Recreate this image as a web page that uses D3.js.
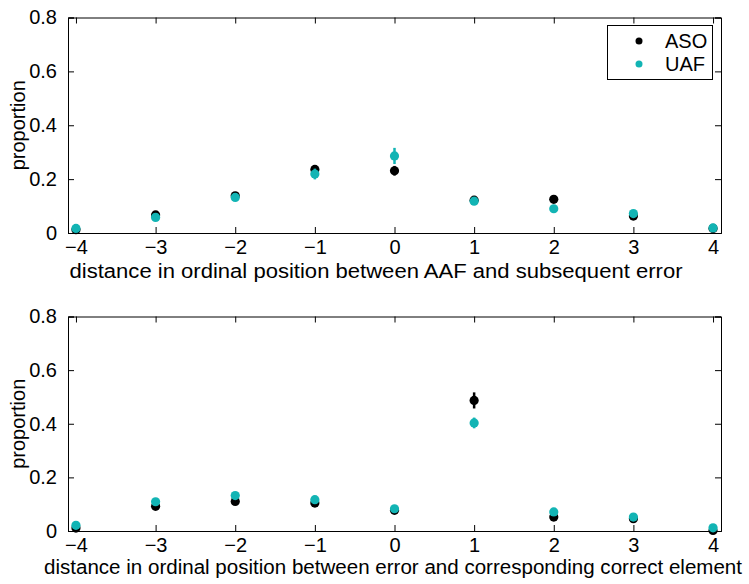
<!DOCTYPE html>
<html><head><meta charset="utf-8">
<script src="https://cdn.jsdelivr.net/npm/d3@7/dist/d3.min.js"></script>
<style>body{margin:0;background:#fff}svg{display:block}text{font-family:"Liberation Sans",Arial,Helvetica,sans-serif;fill:#000}</style>
</head><body><svg id="c" width="749" height="584"></svg>
<script>
const distances = [-4,-3,-2,-1,0,1,2,3,4];
const yTicks = [0,0.2,0.4,0.6,0.8];
const seriesNames = ["ASO","UAF"];
const seriesColors = ["#000000","#12b4b4"];
// top panel: AAF -> subsequent error
const topASO = [0.012,0.067,0.138,0.236,0.231,0.122,0.125,0.063,0.017];
const topUAF = [0.017,0.058,0.132,0.219,0.286,0.118,0.090,0.072,0.019];
const topASOerr = [0.004,0.006,0.007,0.015,0.018,0.007,0.009,0.007,0.004];
const topUAFerr = [0.005,0.006,0.008,0.020,0.030,0.008,0.012,0.008,0.005];
// bottom panel: error -> corresponding correct element
const botASO = [0.011,0.092,0.110,0.104,0.077,0.487,0.052,0.046,0.002];
const botUAF = [0.021,0.109,0.132,0.117,0.083,0.403,0.071,0.052,0.012];
const botASOerr = [0.004,0.009,0.010,0.009,0.007,0.030,0.007,0.006,0.003];
const botUAFerr = [0.005,0.009,0.013,0.009,0.007,0.020,0.008,0.007,0.005];
const topXLabel = "distance in ordinal position between AAF and subsequent error";
const botXLabel = "distance in ordinal position between error and corresponding correct element";
const yLabel = "proportion";

const svg = d3.select("#c");
const left = 68, right = 721;

function panel(top, bottom, aso, uaf, asoErr, uafErr, xlabel, labelCx, labelW, labelDy, legend) {
  const x = d3.scaleLinear().domain([-4.1,4.1]).range([left,right]);
  const y = d3.scaleLinear().domain([0,0.8]).range([bottom,top]);
  const g = svg.append("g");
  const tl = 6;
  const xb = g.append("g").attr("transform",`translate(0,${bottom})`)
    .call(d3.axisBottom(x).tickValues(distances).tickSize(-tl).tickPadding(9).tickFormat(d=>d<0?"\u2212"+(-d):d));
  const xt = g.append("g").attr("transform",`translate(0,${top})`)
    .call(d3.axisTop(x).tickValues(distances).tickSize(-tl).tickFormat(""));
  const yl = g.append("g").attr("transform",`translate(${left},0)`)
    .call(d3.axisLeft(y).tickValues(yTicks).tickSize(-tl).tickPadding(11).tickFormat(d=>d===0?"0":d3.format(".1f")(d)));
  const yr = g.append("g").attr("transform",`translate(${right},0)`)
    .call(d3.axisRight(y).tickValues(yTicks).tickSize(-tl).tickFormat(""));
  [xb,xt,yl,yr].forEach(a=>{
    a.select(".domain").attr("stroke","#000").attr("stroke-width",1);
    a.selectAll(".tick line").attr("stroke","#000");
    a.selectAll("text").attr("font-size",20).attr("font-family","Liberation Sans, Arial, sans-serif");
  });
  xb.selectAll("text").attr("dy","0.62em");
  g.append("text").attr("x",labelCx).attr("y",bottom+labelDy)
    .attr("text-anchor","middle").attr("font-size",20)
    .attr("textLength",labelW).attr("lengthAdjust","spacingAndGlyphs").text(xlabel);
  g.append("text").attr("transform",`translate(25,${(top+bottom)/2}) rotate(-90)`)
    .attr("text-anchor","middle").attr("font-size",20).text(yLabel);
  const sets = [[aso,asoErr],[uaf,uafErr]];
  sets.forEach(([vals,errs],si)=>{
    const s = g.append("g").attr("fill",seriesColors[si]).attr("stroke",seriesColors[si]);
    s.selectAll("line").data(distances).join("line")
      .attr("x1",d=>x(d)).attr("x2",d=>x(d))
      .attr("y1",(d,i)=>y(vals[i]-errs[i])).attr("y2",(d,i)=>y(vals[i]+errs[i]))
      .attr("stroke-width",2.5);
    s.selectAll("circle").data(distances).join("circle")
      .attr("cx",d=>x(d)).attr("cy",(d,i)=>y(vals[i])).attr("r",4.6).attr("stroke","none");
  });
  if (legend) {
    const lg = g.append("g");
    lg.append("rect").attr("x",607.5).attr("y",25.5).attr("width",105).attr("height",54)
      .attr("fill","#fff").attr("stroke","#000");
    seriesNames.forEach((n,i)=>{
      lg.append("circle").attr("cx",639).attr("cy",41+i*23).attr("r",3.5).attr("fill",seriesColors[i]);
      lg.append("text").attr("x",665).attr("y",41+i*23).attr("dy","0.36em").attr("font-size",20).text(n);
    });
  }
}
panel(17.5, 233, topASO, topUAF, topASOerr, topUAFerr, topXLabel, 376, 613, 45, true);
panel(316.5, 531, botASO, botUAF, botASOerr, botUAFerr, botXLabel, 393, 698, 43, false);
</script></body></html>
